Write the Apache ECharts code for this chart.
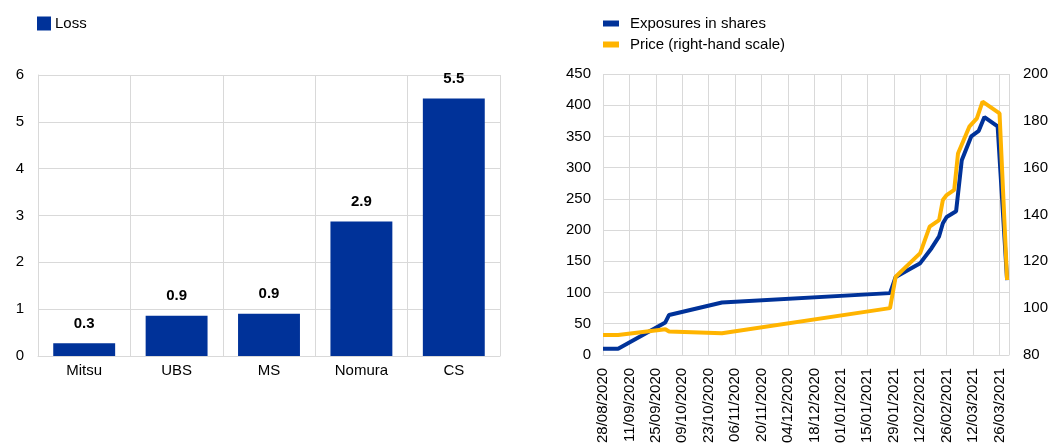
<!DOCTYPE html>
<html>
<head>
<meta charset="utf-8">
<script src="https://cdn.jsdelivr.net/npm/echarts@6/dist/echarts.min.js"></script>
<style>
  html, body { margin: 0; padding: 0; background: #fff; }
  #chart { width: 1051px; height: 446px; }
</style>
</head>
<body>
<div id="chart"></div>
<script>
// left panel: loss per bank
var banks = ['Mitsu', 'UBS', 'MS', 'Nomura', 'CS'];
var losses = [0.27, 0.86, 0.9, 2.87, 5.5];

// right panel: exposures (left scale) and price (right scale)
var exposureDates = ['2020-08-28', '2020-09-05', '2020-09-30', '2020-10-02', '2020-10-30',
    '2021-01-27', '2021-01-30', '2021-02-12', '2021-02-18', '2021-02-22', '2021-02-24',
    '2021-02-26', '2021-03-03', '2021-03-06', '2021-03-11', '2021-03-15', '2021-03-18',
    '2021-03-25', '2021-03-30'];
var exposures = [10, 10, 52, 64, 84, 99, 125, 147, 171, 190, 211, 221, 230, 312, 350, 359, 381, 366, 120];

var priceDates = ['2020-08-28', '2020-09-05', '2020-09-30', '2020-10-02', '2020-10-30',
    '2021-01-27', '2021-01-30', '2021-02-12', '2021-02-17', '2021-02-22', '2021-02-24',
    '2021-02-26', '2021-03-02', '2021-03-04', '2021-03-10', '2021-03-14', '2021-03-17',
    '2021-03-26', '2021-03-30'];
var prices = [88.5, 88.5, 91, 90, 89.3, 100, 113.4, 123.5, 134.8, 137.6, 146.2, 148.3, 150.5, 166, 177.5, 181, 188.2, 183.2, 112];

var tickDates = ['28/08/2020', '11/09/2020', '25/09/2020', '09/10/2020', '23/10/2020',
    '06/11/2020', '20/11/2020', '04/12/2020', '18/12/2020', '01/01/2021', '15/01/2021',
    '29/01/2021', '12/02/2021', '26/02/2021', '12/03/2021', '26/03/2021'];

var blue = '#003299';
var yellow = '#ffb400';
var gridColor = '#d9d9d9';
var font = "'Liberation Sans', Arial, sans-serif";

// day number counted from the first tick date
function dayOf(s) {
    var p = s.split('-');
    return (Date.UTC(+p[0], +p[1] - 1, +p[2]) - Date.UTC(2020, 7, 28)) / 86400000;
}
function pairs(dates, vals) {
    return dates.map(function (d, i) { return [dayOf(d), vals[i]]; });
}

var chart = echarts.init(document.getElementById('chart'));
chart.setOption({
    animation: false,
    backgroundColor: '#fff',
    textStyle: { fontFamily: font, color: '#000' },
    legend: [
        {
            left: 37, top: 16, padding: 0,
            icon: 'rect', itemWidth: 14, itemHeight: 14,
            textStyle: { fontSize: 15, color: '#000', fontFamily: font, padding: [0, 0, 0, -1] },
            data: ['Loss']
        },
        {
            left: 603, top: 16, padding: 0, orient: 'vertical',
            icon: 'rect', itemWidth: 16, itemHeight: 6, itemGap: 6,
            textStyle: { fontSize: 15, color: '#000', fontFamily: font, padding: [0, 0, 0, 6] },
            data: ['Exposures in shares', 'Price (right-hand scale)']
        }
    ],
    grid: [
        { left: 38, right: 551, top: 75, bottom: 90 },
        { left: 603, right: 40, top: 74, bottom: 91 }
    ],
    xAxis: [
        {
            gridIndex: 0, type: 'category', data: banks,
            axisLine: { lineStyle: { color: gridColor } },
            axisTick: { show: false },
            splitLine: { show: true, lineStyle: { color: gridColor } },
            axisLabel: { fontSize: 15, color: '#000', margin: 7 }
        },
        {
            gridIndex: 1, type: 'value', min: 0, max: 215, interval: 14,
            axisLine: { lineStyle: { color: gridColor } },
            axisTick: { show: false },
            splitLine: { show: true, lineStyle: { color: gridColor } },
            axisLabel: {
                fontSize: 15, color: '#000', rotate: 90, margin: 13,
                formatter: function (v) {
                    return v % 14 === 0 ? (tickDates[v / 14] || '') : '';
                }
            }
        }
    ],
    yAxis: [
        {
            gridIndex: 0, type: 'value', min: 0, max: 6, interval: 1,
            axisLine: { show: true, lineStyle: { color: gridColor } },
            axisTick: { show: false },
            splitLine: { lineStyle: { color: gridColor } },
            axisLabel: { fontSize: 15, color: '#000', margin: 14 }
        },
        {
            gridIndex: 1, type: 'value', min: 0, max: 450, interval: 50,
            axisLine: { show: false },
            axisTick: { show: false },
            splitLine: { lineStyle: { color: gridColor } },
            axisLabel: { fontSize: 15, color: '#000', margin: 12 }
        },
        {
            gridIndex: 1, type: 'value', position: 'right', min: 80, max: 200, interval: 20,
            axisLine: { show: false },
            axisTick: { show: false },
            splitLine: { show: false },
            axisLabel: { fontSize: 15, color: '#000', margin: 14 }
        }
    ],
    series: [
        {
            name: 'Loss', type: 'bar', xAxisIndex: 0, yAxisIndex: 0,
            data: losses, barWidth: '67%',
            itemStyle: { color: blue },
            label: {
                show: true, position: 'top', distance: 12,
                fontSize: 15, fontWeight: 'bold', color: '#000',
                formatter: function (p) { return p.value.toFixed(1); }
            }
        },
        {
            name: 'Exposures in shares', type: 'line', xAxisIndex: 1, yAxisIndex: 1,
            data: pairs(exposureDates, exposures),
            showSymbol: false, symbol: 'none',
            itemStyle: { color: blue },
            lineStyle: { color: blue, width: 4 }
        },
        {
            name: 'Price (right-hand scale)', type: 'line', xAxisIndex: 1, yAxisIndex: 2,
            data: pairs(priceDates, prices),
            showSymbol: false, symbol: 'none',
            itemStyle: { color: yellow },
            lineStyle: { color: yellow, width: 4 }
        }
    ]
});
</script>
</body>
</html>
